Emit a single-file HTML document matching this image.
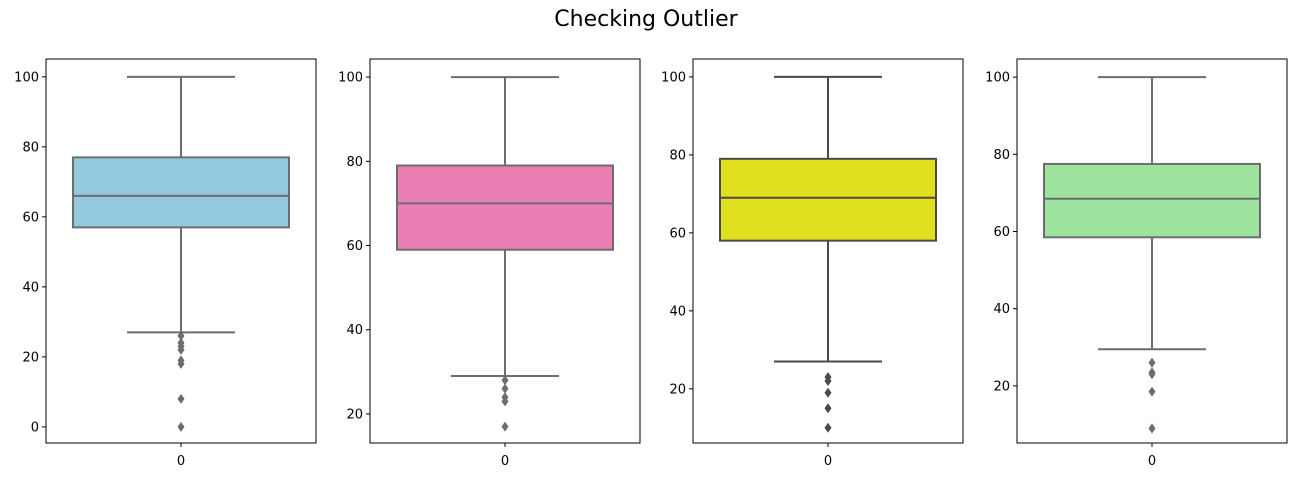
<!DOCTYPE html>
<html><head><meta charset="utf-8"><style>
html,body{margin:0;padding:0;background:#fff;}
svg{display:block;font-family:"DejaVu Sans","Liberation Sans",sans-serif;}
</style></head><body>
<svg id="chart" width="1296" height="478" viewBox="0 0 1296 478">
<text x="646" y="26" text-anchor="middle" font-size="22" fill="#000">Checking Outlier</text>
</svg>
<script>
const panelNames = ["panel-1","panel-2","panel-3","panel-4"];
const q1s = [57, 59, 58, 58.5];
const medians = [66, 70, 69, 68.5];
const q3s = [77, 79, 79, 77.5];
const whiskerLows = [27, 29, 27, 29.5];
const whiskerHighs = [100, 100, 100, 100];
const outliers = [[26,24,23,22,19,18,8,0],[28,26,24,23,17],[23,22,19,15,10],[26,23.5,23,18.5,9]];
const yMins = [-4.6, 13.1, 6.1, 5.2];
const yMaxs = [105.1, 104.3, 104.6, 104.7];
const yTicks = [[0,20,40,60,80,100],[20,40,60,80,100],[20,40,60,80,100],[20,40,60,80,100]];
const fills = ["#93c9de","#eb7eb4","#e0e01f","#9de29d"];
const strokes = ["#6d6d6d","#6d6d6d","#4a4a4a","#6d6d6d"];
const lefts = [46, 370, 693, 1017];
const W = 270, TOP = 59, BOT = 443;
const NS = "http://www.w3.org/2000/svg";
const svg = document.getElementById("chart");
function mk(tag, attrs, parent){const e=document.createElementNS(NS,tag);for(const k in attrs)e.setAttribute(k,attrs[k]);parent.appendChild(e);return e;}
for(let i=0;i<4;i++){
  const g = mk("g",{},svg);
  
  
  const L=lefts[i];
  const y = v => BOT - (v - yMins[i])/(yMaxs[i]-yMins[i])*(BOT-TOP);
  const cx = L + W/2, bx0 = L + W*0.1, bx1 = L + W*0.9, cap0 = L+W*0.3, cap1 = L+W*0.7;
  const s = strokes[i];
  const wl = mk("line",{x1:cx,x2:cx,y1:y(whiskerLows[i]),y2:y(q1s[i]),stroke:s,"stroke-width":2},g);
  
  
  const wh = mk("line",{x1:cx,x2:cx,y1:y(whiskerHighs[i]),y2:y(q3s[i]),stroke:s,"stroke-width":2},g);
  
  
  const c1 = mk("line",{x1:cap0,x2:cap1,y1:y(whiskerLows[i]),y2:y(whiskerLows[i]),stroke:s,"stroke-width":2},g);
  
  
  const c2 = mk("line",{x1:cap0,x2:cap1,y1:y(whiskerHighs[i]),y2:y(whiskerHighs[i]),stroke:s,"stroke-width":2},g);
  
  
  const box = mk("rect",{x:bx0,y:y(q3s[i]),width:bx1-bx0,height:y(q1s[i])-y(q3s[i]),fill:fills[i],stroke:s,"stroke-width":2},g);
  
  
  const md = mk("line",{x1:bx0,x2:bx1,y1:y(medians[i]),y2:y(medians[i]),stroke:s,"stroke-width":2},g);
  
  
  outliers[i].forEach(v=>{
    const yy=y(v);
    const p = mk("polygon",{points:`${cx},${yy-5} ${cx+3.5},${yy} ${cx},${yy+5} ${cx-3.5},${yy}`,fill:s},g);
    
    
  });
  const fr = mk("rect",{x:L,y:TOP,width:W,height:BOT-TOP,fill:"none",stroke:"#000","stroke-width":1},g);
  
  
  yTicks[i].forEach(t=>{
    const yy=y(t);
    const tl = mk("line",{x1:L-4,x2:L,y1:yy,y2:yy,stroke:"#000","stroke-width":1},g);
    
    
    const tx = mk("text",{x:L-7,y:yy+4.5,"text-anchor":"end","font-size":13,fill:"#000"},g);
    tx.textContent=t;
    
    
  });
  const xt = mk("line",{x1:cx,x2:cx,y1:BOT,y2:BOT+4,stroke:"#000","stroke-width":1},g);
  
  
  const xl = mk("text",{x:cx,y:BOT+22,"text-anchor":"middle","font-size":13,fill:"#000"},g);
  xl.textContent="0";
  
  
}
</script>
</body></html>
